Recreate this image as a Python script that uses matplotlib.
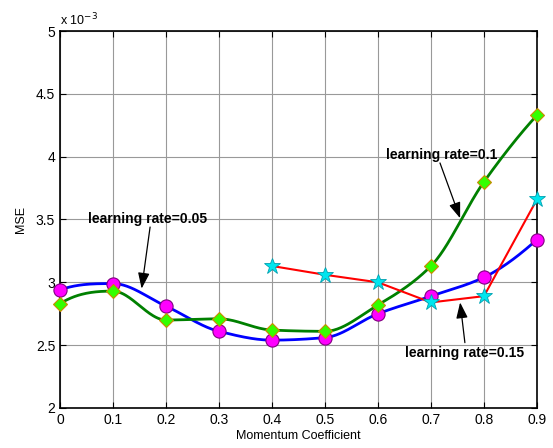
import numpy as np
import matplotlib
matplotlib.use('Agg')
import matplotlib.pyplot as plt

plt.rcParams['font.family'] = ['Liberation Sans', 'DejaVu Sans']

# momentum coefficient values
mom = [0, 0.1, 0.2, 0.3, 0.4, 0.5, 0.6, 0.7, 0.8, 0.9]
# MSE (x 1e-3) for each learning rate
mse_005 = [2.94, 2.99, 2.81, 2.61, 2.54, 2.56, 2.75, 2.89, 3.04, 3.34]
mse_01 = [2.83, 2.93, 2.70, 2.71, 2.62, 2.61, 2.82, 3.13, 3.80, 4.33]
mom_015 = [0.4, 0.5, 0.6, 0.7, 0.8, 0.9]
mse_015 = [3.13, 3.06, 3.00, 2.84, 2.89, 3.66]

xticks = [0, 0.1, 0.2, 0.3, 0.4, 0.5, 0.6, 0.7, 0.8, 0.9]
yticks = [2, 2.5, 3, 3.5, 4, 4.5, 5]


def pchip(x, y, xn):
    # shape preserving cubic (like matlab pchip)
    x = np.asarray(x, float)
    y = np.asarray(y, float)
    h = np.diff(x)
    d = np.diff(y) / h
    n = len(x)
    m = np.zeros(n)
    for k in range(1, n - 1):
        if d[k - 1] * d[k] > 0:
            w1 = 2 * h[k] + h[k - 1]
            w2 = h[k] + 2 * h[k - 1]
            m[k] = (w1 + w2) / (w1 / d[k - 1] + w2 / d[k])
    m[0] = ((2 * h[0] + h[1]) * d[0] - h[0] * d[1]) / (h[0] + h[1])
    if np.sign(m[0]) != np.sign(d[0]):
        m[0] = 0
    elif np.sign(d[0]) != np.sign(d[1]) and abs(m[0]) > abs(3 * d[0]):
        m[0] = 3 * d[0]
    m[-1] = ((2 * h[-1] + h[-2]) * d[-1] - h[-1] * d[-2]) / (h[-1] + h[-2])
    if np.sign(m[-1]) != np.sign(d[-1]):
        m[-1] = 0
    elif np.sign(d[-1]) != np.sign(d[-2]) and abs(m[-1]) > abs(3 * d[-1]):
        m[-1] = 3 * d[-1]
    idx = np.clip(np.searchsorted(x, xn) - 1, 0, n - 2)
    t = (xn - x[idx]) / h[idx]
    h00 = 2 * t**3 - 3 * t**2 + 1
    h10 = t**3 - 2 * t**2 + t
    h01 = -2 * t**3 + 3 * t**2
    h11 = t**3 - t**2
    return (h00 * y[idx] + h10 * h[idx] * m[idx] + h01 * y[idx + 1]
            + h11 * h[idx] * m[idx + 1])


fig = plt.figure(figsize=(5.53, 4.48), dpi=100)
ax = fig.add_axes([0.1085, 0.0893, 0.8625, 0.8415])

xs = np.linspace(mom[0], mom[-1], 400)

ax.plot(xs, pchip(mom, mse_005, xs), color='#0000ff', lw=2, zorder=3)
ax.plot(mom, mse_005, 'o', ms=9.5, mfc='#ff00ff', mec='#800080',
        mew=0.8, zorder=4, clip_on=False)

ax.plot(xs, pchip(mom, mse_01, xs), color='#008000', lw=2, zorder=3)
ax.plot(mom, mse_01, 'D', ms=7.5, mfc='#33ff00', mec='#cc8800',
        mew=0.8, zorder=4, clip_on=False)

ax.plot(mom_015, mse_015, color='#ff0000', lw=1.5, zorder=5)
ax.plot(mom_015, mse_015, '*', ms=12, mfc='#00e5ee', mec='#00a0b0',
        mew=0.6, zorder=6, clip_on=False)

akw = dict(arrowstyle='-|>,head_length=0.6,head_width=0.22',
           color='black', lw=0.9, mutation_scale=16, shrinkA=0, shrinkB=0)
tkw = dict(fontsize=10, fontweight='bold', ha='center', va='center')
ax.annotate('', xy=(0.154, 2.95), xytext=(0.17, 3.44), arrowprops=akw)
ax.text(0.166, 3.5, 'learning rate=0.05', **tkw)
ax.annotate('', xy=(0.755, 3.51), xytext=(0.717, 3.95), arrowprops=akw)
ax.text(0.721, 4.01, 'learning rate=0.1', **tkw)
ax.annotate('', xy=(0.755, 2.84), xytext=(0.764, 2.52), arrowprops=akw)
ax.text(0.763, 2.44, 'learning rate=0.15', **tkw)

ax.set_xlim(0, 0.9)
ax.set_ylim(2, 5)
ax.set_xticks(xticks)
ax.set_xticklabels([('%g' % v) for v in xticks])
ax.set_yticks(yticks)
ax.set_yticklabels([('%g' % v) for v in yticks])
ax.tick_params(direction='in', top=True, right=True, labelsize=10,
               length=4, width=0.8)
ax.grid(True, color='#999999', lw=0.8)
for s in ax.spines.values():
    s.set_linewidth(1.2)

ax.set_xlabel('Momentum Coefficient', fontsize=9, labelpad=2)
ax.set_ylabel('MSE', fontsize=9, labelpad=6)
ax.text(0, 1.008, r'x 10$^{-3}$', transform=ax.transAxes, fontsize=9,
        ha='left', va='bottom')

fig.savefig('out.png', dpi=100)
